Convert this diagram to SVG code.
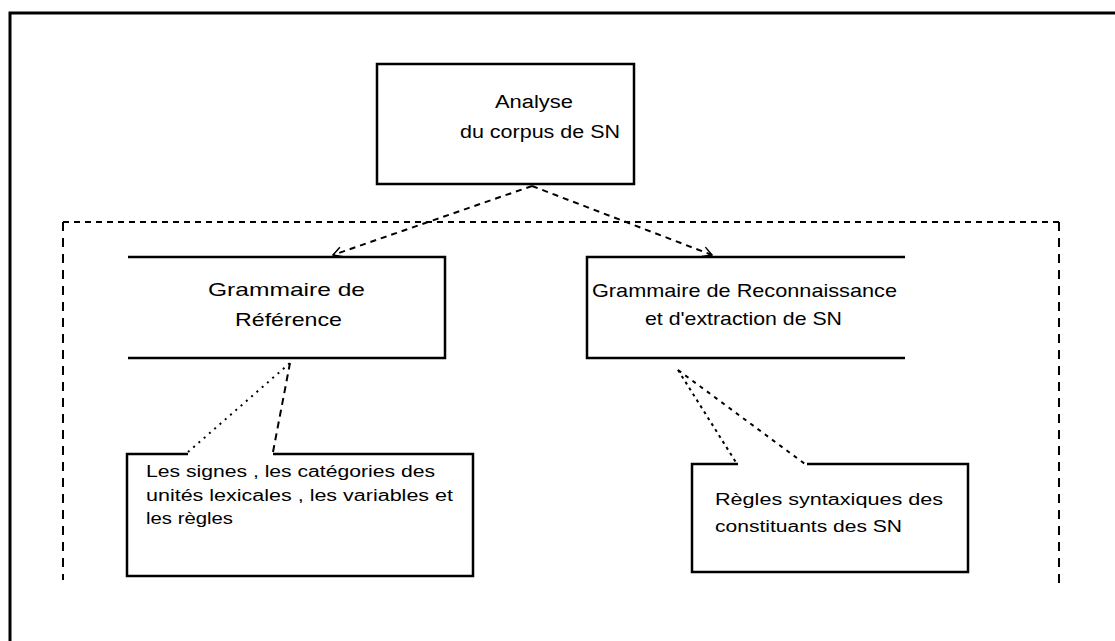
<svg xmlns="http://www.w3.org/2000/svg" width="1115" height="641" viewBox="0 0 1115 641">
<style>
.box{fill:none;stroke:#000;stroke-width:2.5}
.t{font-family:"Liberation Sans",Arial,sans-serif;fill:#000}
.dash{fill:none;stroke:#000;stroke-width:2;stroke-dasharray:6,5}
.dot{fill:none;stroke:#000;stroke-width:2;stroke-dasharray:2,5}
.vd{fill:none;stroke:#000;stroke-width:2;stroke-dasharray:9,7}
</style>
<defs>
<marker id="arr" viewBox="0 0 12 12" refX="11" refY="6" markerWidth="12" markerHeight="12" markerUnits="userSpaceOnUse" orient="auto">
<path d="M2,1 L11,6 L2,11" fill="none" stroke="#000" stroke-width="1.5"/>
</marker>
</defs>
<rect width="1115" height="641" fill="#fff"/>
<path d="M10,641 V13 H1115" fill="none" stroke="#000" stroke-width="3"/>
<g id="frame">
<path class="dash" d="M63,222 H1060"/>
<path class="vd" d="M63,222 V580 M1059,222 V583"/>
</g>
<g id="analyse">
<rect class="box" x="377" y="64" width="257" height="120"/>
<text class="t" x="495" y="108" font-size="18" textLength="78" lengthAdjust="spacingAndGlyphs">Analyse</text>
<text class="t" x="460" y="138" font-size="18" textLength="160" lengthAdjust="spacingAndGlyphs">du corpus de SN</text>
</g>
<g id="grammaire-reference">
<path class="box" d="M128,257 H445 V358 H128"/>
<text class="t" x="208" y="296" font-size="19" textLength="157" lengthAdjust="spacingAndGlyphs">Grammaire  de</text>
<text class="t" x="235" y="326" font-size="19" textLength="107" lengthAdjust="spacingAndGlyphs">Référence</text>
</g>
<g id="grammaire-reconnaissance">
<path class="box" d="M905,257 H587 V358 H905"/>
<text class="t" x="592" y="297" font-size="19" textLength="305" lengthAdjust="spacingAndGlyphs">Grammaire de Reconnaissance</text>
<text class="t" x="645" y="325" font-size="19" textLength="197" lengthAdjust="spacingAndGlyphs">et d'extraction de SN</text>
</g>
<g id="signes">
<path class="box" d="M188,454 H127 V576 H473 V454 H273"/>
<text class="t" x="146" y="477" font-size="16" textLength="289" lengthAdjust="spacingAndGlyphs">Les signes , les catégories des</text>
<text class="t" x="146" y="501" font-size="16" textLength="307" lengthAdjust="spacingAndGlyphs">unités lexicales , les variables et</text>
<text class="t" x="146" y="524" font-size="16" textLength="87" lengthAdjust="spacingAndGlyphs">les règles</text>
</g>
<g id="regles">
<path class="box" d="M738,464 H692 V572 H968 V464 H807"/>
<text class="t" x="715" y="505" font-size="16" textLength="228" lengthAdjust="spacingAndGlyphs">Règles syntaxiques des</text>
<text class="t" x="715" y="532" font-size="16" textLength="187" lengthAdjust="spacingAndGlyphs">constituants des SN</text>
</g>
<g id="connectors">
<path class="dash" d="M532,186 L333,255" marker-end="url(#arr)"/>
<path class="dash" d="M532,186 L712,255" marker-end="url(#arr)"/>
<path class="dot" d="M188,452 L290,363"/>
<path class="vd" d="M273,452 L290,363" style="stroke-dasharray:7,5"/>
<path class="dot" d="M678,370 L737,464" style="stroke-dasharray:3,4"/>
<path class="dot" d="M678,370 L805,464" style="stroke-dasharray:4,5"/>
</g>
</svg>
